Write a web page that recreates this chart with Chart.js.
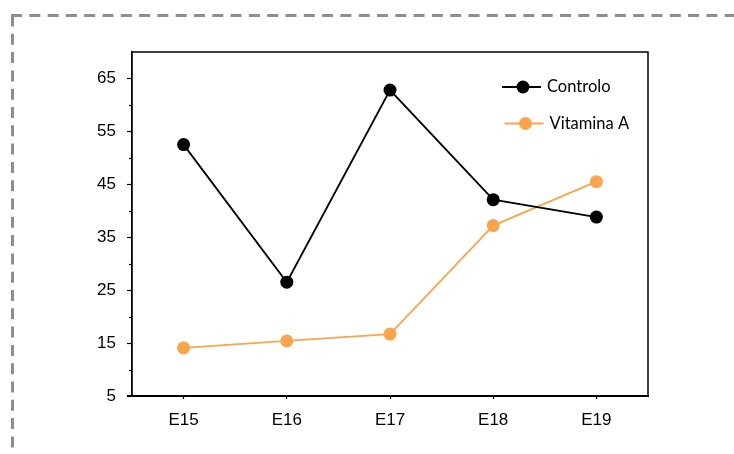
<!DOCTYPE html>
<html>
<head>
<meta charset="utf-8">
<script src="https://cdn.jsdelivr.net/npm/chart.js@4.4.1/dist/chart.umd.min.js"></script>
<style>
  html, body { margin: 0; padding: 0; background: #ffffff; }
  #wrap { width: 734px; height: 454px; }
</style>
</head>
<body>
<div id="wrap"><canvas id="c" width="734" height="454"></canvas></div>
<script>
// Categories and series
const categories = ['E15', 'E16', 'E17', 'E18', 'E19'];
const controlo = [52.5, 26.5, 62.8, 42.1, 38.8];
const vitaminaA = [14.1, 15.4, 16.7, 37.2, 45.5];

// Y axis range and label step
const yMin = 5;
const yMax = 70;
const yStep = 5;

const BLACK = '#000000';
const ORANGE = '#F9A54E';
const TICK_FONT = { family: '"Liberation Sans", Arial, sans-serif', size: 17 };

// Dashed frame around the whole figure (top and left edges visible)
const dashedFrame = {
  id: 'dashedFrame',
  beforeDraw(chart) {
    const ctx = chart.ctx;
    ctx.save();
    ctx.strokeStyle = '#8e8e8e';
    ctx.lineWidth = 3;
    ctx.setLineDash([11, 7.3]);
    ctx.beginPath();
    ctx.moveTo(12.5, 15.5);
    ctx.lineTo(12.5, chart.height + 10);
    ctx.stroke();
    ctx.beginPath();
    ctx.moveTo(11, 15.5);
    ctx.lineTo(chart.width + 10, 15.5);
    ctx.stroke();
    ctx.restore();
  }
};

// Plot box, minor ticks and the inset legend
const plotExtras = {
  id: 'plotExtras',
  afterDraw(chart) {
    const ctx = chart.ctx;
    const a = chart.chartArea;
    const y = chart.scales.y;
    ctx.save();
    // top and right edges of the plot box
    ctx.strokeStyle = BLACK;
    ctx.lineWidth = 1.5;
    ctx.beginPath();
    ctx.moveTo(a.left, a.top);
    ctx.lineTo(a.right, a.top);
    ctx.lineTo(a.right, a.bottom);
    ctx.stroke();
    // bottom axis runs a little past the left axis
    ctx.lineWidth = 2;
    ctx.beginPath();
    ctx.moveTo(a.left - 5, a.bottom);
    ctx.lineTo(a.left, a.bottom);
    ctx.stroke();
    // minor ticks on the value axis
    ctx.lineWidth = 1.2;
    for (let v = yMin + 5; v < yMax; v += 10) {
      const py = Math.round(y.getPixelForValue(v)) + 0.5;
      ctx.beginPath();
      ctx.moveTo(a.left - 3, py);
      ctx.lineTo(a.left, py);
      ctx.stroke();
    }
    // legend
    const rows = [
      { dy: 35, dx: 0 },
      { dy: 71.5, dx: 2.5 }
    ];
    ctx.font = '16.5px Lato, "Open Sans", sans-serif';
    ctx.textBaseline = 'middle';
    ctx.textAlign = 'left';
    chart.data.datasets.forEach((ds, i) => {
      const r = rows[i];
      const ly = a.top + r.dy;
      const x0 = a.right - 146 + r.dx;
      ctx.strokeStyle = ds.borderColor;
      ctx.lineWidth = 2;
      ctx.beginPath();
      ctx.moveTo(x0, ly);
      ctx.lineTo(x0 + 39, ly);
      ctx.stroke();
      ctx.fillStyle = ds.pointBackgroundColor;
      ctx.beginPath();
      ctx.arc(x0 + 21, ly, 6.5, 0, Math.PI * 2);
      ctx.fill();
      ctx.fillStyle = '#000000';
      ctx.fillText(ds.label, x0 + 45, ly);
    });
    ctx.restore();
  }
};

new Chart(document.getElementById('c'), {
  type: 'line',
  data: {
    labels: categories,
    datasets: [
      {
        label: 'Controlo',
        data: controlo,
        borderColor: BLACK,
        backgroundColor: BLACK,
        pointBackgroundColor: BLACK,
        pointBorderColor: BLACK,
        borderWidth: 1.8,
        pointRadius: 6.5,
        pointBorderWidth: 0,
        tension: 0
      },
      {
        label: 'Vitamina A',
        data: vitaminaA,
        borderColor: ORANGE,
        backgroundColor: ORANGE,
        pointBackgroundColor: ORANGE,
        pointBorderColor: ORANGE,
        borderWidth: 1.8,
        pointRadius: 6.5,
        pointBorderWidth: 0,
        tension: 0
      }
    ]
  },
  options: {
    responsive: false,
    animation: false,
    events: [],
    layout: { padding: { top: 52, right: 86, bottom: 0, left: 0 } },
    plugins: {
      legend: { display: false },
      tooltip: { enabled: false }
    },
    scales: {
      x: {
        type: 'category',
        offset: true,
        afterFit(scale) { scale.height = 58; },
        border: { display: true, color: BLACK, width: 2 },
        grid: {
          display: true,
          offset: false,
          drawOnChartArea: false,
          drawTicks: true,
          tickLength: 3,
          tickColor: BLACK,
          tickWidth: 1.2
        },
        ticks: {
          color: '#000000',
          padding: 11,
          maxRotation: 0,
          font: TICK_FONT
        }
      },
      y: {
        min: yMin,
        max: yMax,
        afterFit(scale) { scale.width = 132; },
        border: { display: true, color: BLACK, width: 1.8 },
        grid: {
          display: true,
          drawOnChartArea: false,
          drawTicks: true,
          tickLength: 5,
          tickWidth: 1.2,
          tickColor(ctx) {
            const v = ctx.tick && ctx.tick.value;
            return ((v - yMin) % 10 === 0 && v < yMax) ? BLACK : 'rgba(0,0,0,0)';
          }
        },
        ticks: {
          stepSize: yStep,
          color: '#000000',
          padding: 11,
          font: TICK_FONT,
          callback(v) {
            return ((v - yMin) % 10 === 0 && v < yMax) ? String(v) : '';
          }
        }
      }
    }
  },
  plugins: [dashedFrame, plotExtras]
});
</script>
</body>
</html>
